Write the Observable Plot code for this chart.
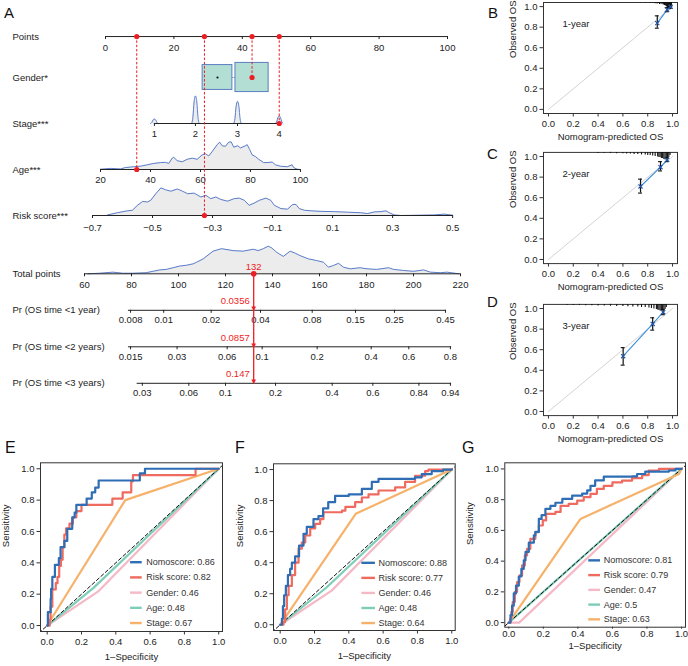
<!DOCTYPE html>
<html><head><meta charset="utf-8">
<script src="https://cdn.jsdelivr.net/npm/d3@7"></script>
<script src="https://cdn.jsdelivr.net/npm/@observablehq/plot@0.6"></script>
<style>
body{margin:0;background:#fff;}
#fig{position:relative;width:688px;height:666px;overflow:hidden;font-family:"Liberation Sans",Arial,Helvetica,sans-serif;color:#222;background:#fff;}
.panel{position:absolute;}
.letter{position:absolute;line-height:1;color:#111;}
</style></head><body><div id="fig"></div>
<script>
// ================= DATA =================
// --- Nomogram (A) ---
const rowLabelsTop = ["Points", "Gender*", "Stage***", "Age***", "Risk score***"];
const pointsTicks = [0, 20, 40, 60, 80, 100];
const genderPtsStart = [28.4, 38.0];
const genderPtsEnd = [37.1, 47.7];
const genderProp = [0.46, 0.54];
const stageLevels = [1, 2, 3, 4];
const stagePts = [14.3, 26.3, 38.6, 50.8];
const stageFreq = [0.16, 1.0, 0.8, 0.27];
const ageTicks = [20, 40, 60, 80, 100];
const agePtsRange = [-1.46, 57.0];           // points at age 20 and at age 100
const ageDensX = [20,24,28,30,33.3,36,38.7,41.3,44,46,47.3,48.7,49.3,50.7,52.7,54.7,56.7,58.7,60.7,62,63.3,64.7,66.7,67.7,68.7,70,71.3,72.3,73.3,74.9,76,78,78.7,79.7,80.7,82,83.3,85.3,86.7,88.7,90,92,94.7,96.7,97.3,98.7,100];
const ageDensY = [0.01,0.04,0.02,0.07,0.1,0.12,0.17,0.22,0.25,0.26,0.22,0.41,0.44,0.32,0.28,0.37,0.41,0.37,0.53,0.57,0.49,0.65,0.9,0.99,0.86,0.84,0.99,1.0,0.81,0.86,0.78,0.86,0.9,0.72,0.53,0.47,0.37,0.25,0.25,0.27,0.17,0.12,0.1,0.17,0.07,0.01,0];
const riskTicks = [-0.7, -0.5, -0.3, -0.1, 0.1, 0.3, 0.5];
const riskPtsRange = [-3.8, 101.5];          // points at -0.7 and at 0.5
const riskDensX = [-0.65,-0.617,-0.583,-0.567,-0.55,-0.533,-0.517,-0.506,-0.489,-0.472,-0.456,-0.439,-0.417,-0.4,-0.383,-0.361,-0.339,-0.322,-0.306,-0.289,-0.272,-0.25,-0.228,-0.211,-0.194,-0.178,-0.161,-0.144,-0.122,-0.106,-0.094,-0.072,-0.05,-0.033,-0.022,-0.011,0.006,0.028,0.061,0.106,0.15,0.194,0.217,0.239,0.261,0.278,0.289,0.306,0.328,0.439,0.472,0.5];
const riskDensY = [0.02,0.10,0.17,0.19,0.37,0.51,0.49,0.55,0.79,1.0,0.93,0.88,0.96,0.88,0.79,0.81,0.67,0.73,0.61,0.67,0.58,0.52,0.61,0.63,0.55,0.37,0.45,0.55,0.63,0.55,0.37,0.25,0.23,0.40,0.40,0.25,0.19,0.17,0.15,0.14,0.12,0.10,0.07,0.13,0.14,0.17,0.10,0.02,0.0,0.02,0.05,0.01];
const rowLabelsBottom = ["Total points", "Pr (OS time <1 year)", "Pr (OS time <2 years)", "Pr (OS time <3 years)"];
const totalTicks = [60, 80, 100, 120, 140, 160, 180, 200, 220];
const totalDensX = [61.4,66.4,72.1,76.3,80.6,86.3,89.1,92.0,94.8,97.7,100.5,103.4,106.2,107.7,110.5,114.7,118.3,123.3,127.5,131.8,133.9,136.1,138.2,139.6,141.8,144.6,147.5,149.6,151.7,155.3,158.8,161.7,163.8,165.9,168.1,170.2,173.1,177.3,180.2,184.4,189.4,191.5,195.8,200.1,204.3,207.2,211.4,214.3,219.3];
const totalDensY = [0,0.02,0.06,0.02,0.02,0.04,0.09,0.14,0.16,0.22,0.28,0.31,0.36,0.42,0.54,0.82,0.91,0.84,0.82,0.89,0.84,0.91,1.0,0.94,0.78,0.63,0.82,0.75,0.66,0.54,0.48,0.42,0.24,0.30,0.38,0.24,0.18,0.22,0.18,0.16,0.22,0.16,0.12,0.09,0.14,0.06,0.04,0.06,0];
const pr1Labels = ["0.008","0.01","0.02","0.04","0.08","0.15","0.25","0.45"];
const pr1Total  = [79.6, 93.7, 113.9, 134.9, 156.9, 175.3, 191.9, 213.6];
const pr1Span   = [78.7, 214.0];
const pr2Labels = ["0.015","0.03","0.06","0.1","0.2","0.4","0.6","0.8"];
const pr2Total  = [79.6, 99.4, 120.7, 135.6, 159.0, 182.0, 198.0, 215.7];
const pr2Span   = [78.7, 216.2];
const pr3Labels = ["0.03","0.06","0.1","0.2","0.4","0.6","0.84","0.94"];
const pr3Total  = [84.6, 104.4, 120.0, 141.3, 165.4, 182.7, 202.3, 215.7];
const pr3Span   = [82.4, 216.2];
// selected patient
const selAge = 34.5, selRisk = -0.327, selGenderIdx = 1, selStage = 4;
const selTotal = 132;
const selProbLabels = ["0.0356", "0.0857", "0.147"];

// --- Calibration (B, C, D) ---
const calTicks = [0, 0.2, 0.4, 0.6, 0.8, 1.0];
const calYears = ["1-year", "2-year", "3-year"];
const bPred = [0.877, 0.957, 0.985], bObs = [0.839, 0.97, 0.998], bLo = [0.79, 0.95, 0.985], bHi = [0.91, 0.99, 1.0];
const cPred = [0.742, 0.903, 0.957], cObs = [0.709, 0.896, 0.968], cLo = [0.645, 0.86, 0.95], cHi = [0.78, 0.95, 0.99];
const dPred = [0.602, 0.84, 0.925], dObs = [0.537, 0.85, 0.964], dLo = [0.45, 0.79, 0.94], dHi = [0.62, 0.91, 0.99];
const bRugX = [0.74,0.78,0.82,0.84,0.86,0.875,0.885,0.895,0.905,0.915,0.925,0.93,0.935,0.94,0.945,0.95,0.955,0.96,0.963,0.966,0.97,0.973,0.976,0.979,0.982,0.985,0.988,0.991];
const bRugH = [0.006,0.006,0.008,0.01,0.012,0.015,0.01,0.02,0.015,0.02,0.025,0.02,0.03,0.03,0.035,0.04,0.045,0.05,0.06,0.055,0.065,0.07,0.06,0.065,0.07,0.06,0.05,0.04];
const cRugX = [0.4,0.45,0.5,0.55,0.6,0.63,0.66,0.69,0.72,0.75,0.78,0.8,0.82,0.84,0.86,0.88,0.89,0.9,0.91,0.92,0.93,0.94,0.95,0.96,0.97,0.98];
const cRugH = [0.01,0.008,0.01,0.012,0.012,0.015,0.015,0.02,0.02,0.025,0.025,0.03,0.03,0.035,0.04,0.045,0.05,0.05,0.06,0.06,0.07,0.075,0.07,0.06,0.05,0.03];
const dRugX = [0.15,0.2,0.25,0.3,0.35,0.4,0.45,0.5,0.55,0.6,0.64,0.68,0.72,0.75,0.78,0.81,0.83,0.85,0.87,0.88,0.89,0.9,0.91,0.92,0.93,0.94,0.95];
const dRugH = [0.008,0.01,0.01,0.012,0.012,0.015,0.015,0.018,0.02,0.02,0.022,0.025,0.025,0.03,0.03,0.035,0.04,0.045,0.05,0.055,0.06,0.065,0.07,0.065,0.06,0.05,0.03];

// --- ROC (E, F, G) ---
const rocSeries = ["Nomoscore", "Risk score", "Gender", "Age", "Stage"];
const aucE = [0.86, 0.82, 0.46, 0.48, 0.67];
const aucF = [0.88, 0.77, 0.46, 0.48, 0.64];
const aucG = [0.81, 0.79, 0.47, 0.5, 0.63];
const rocTicks = [0, 0.2, 0.4, 0.6, 0.8, 1.0];
const eNomoFpr = [0,0.004,0.02,0.023,0.03,0.045,0.068,0.078,0.1,0.117,0.146,0.16,0.17,0.23,0.26,0.28,0.3,0.54,0.57,1];
const eNomoTpr = [0,0.085,0.17,0.234,0.31,0.387,0.43,0.5,0.54,0.617,0.69,0.72,0.77,0.81,0.85,0.88,0.925,0.97,1.0,1];
const eRiskFpr = [0,0.015,0.02,0.03,0.05,0.06,0.07,0.08,0.09,0.1,0.11,0.13,0.15,0.17,0.2,0.38,0.44,0.49,0.5,0.865,1];
const eRiskTpr = [0,0.04,0.12,0.23,0.27,0.31,0.38,0.42,0.5,0.58,0.62,0.65,0.69,0.73,0.77,0.81,0.85,0.92,0.96,1.0,1];
const eGenderFpr = [0,0.3,1], eGenderTpr = [0,0.22,1];
const eAgeFpr = [0,0.27,1], eAgeTpr = [0,0.24,1];
const eStageFpr = [0,0.455,1], eStageTpr = [0,0.8,1];
const fNomoFpr = [0,0.01,0.016,0.023,0.033,0.045,0.058,0.068,0.087,0.11,0.136,0.155,0.194,0.223,0.25,0.28,0.32,0.40,0.476,0.534,0.573,0.786,0.825,0.883,0.95,1];
const fNomoTpr = [0,0.04,0.12,0.19,0.25,0.32,0.36,0.40,0.44,0.51,0.586,0.63,0.68,0.70,0.75,0.79,0.83,0.84,0.875,0.92,0.94,0.95,0.97,0.99,1.0,1];
const fRiskFpr = [0,0.019,0.029,0.039,0.049,0.068,0.087,0.107,0.126,0.146,0.175,0.204,0.233,0.252,0.36,0.38,0.437,0.476,0.515,0.573,0.67,0.728,0.786,0.845,0.864,1];
const fRiskTpr = [0,0.017,0.10,0.19,0.25,0.32,0.40,0.49,0.53,0.575,0.62,0.65,0.68,0.725,0.735,0.76,0.79,0.82,0.84,0.865,0.885,0.92,0.96,0.99,1.0,1];
const fGenderFpr = [0,0.3,1], fGenderTpr = [0,0.22,1];
const fAgeFpr = [0,0.27,1], fAgeTpr = [0,0.24,1];
const fStageFpr = [0,0.44,0.97,1], fStageTpr = [0,0.715,0.985,1];
const gNomoFpr = [0,0.01,0.019,0.029,0.042,0.058,0.073,0.087,0.097,0.116,0.145,0.154,0.174,0.19,0.212,0.241,0.27,0.31,0.367,0.425,0.454,0.473,0.50,0.55,0.714,0.743,0.79,0.927,0.965,1];
const gNomoTpr = [0,0.048,0.11,0.19,0.24,0.30,0.35,0.405,0.46,0.52,0.567,0.59,0.675,0.70,0.74,0.76,0.78,0.805,0.827,0.84,0.86,0.89,0.925,0.95,0.952,0.967,0.983,0.99,1.0,1];
const gRiskFpr = [0,0.01,0.015,0.023,0.035,0.048,0.062,0.077,0.093,0.106,0.125,0.154,0.174,0.197,0.216,0.27,0.3,0.347,0.396,0.434,0.473,0.51,0.55,0.6,0.656,0.714,0.772,0.81,0.869,1];
const gRiskTpr = [0,0.026,0.07,0.134,0.2,0.264,0.307,0.372,0.437,0.48,0.545,0.589,0.632,0.665,0.708,0.72,0.76,0.773,0.794,0.816,0.838,0.87,0.89,0.913,0.924,0.94,0.96,0.99,1.0,1];
const gGenderFpr = [0,0.06,1], gGenderTpr = [0,0,1];
const gAgeFpr = [0,0.5,1], gAgeTpr = [0,0.5,1];
const gStageFpr = [0,0.415,0.985,1], gStageTpr = [0,0.675,0.967,1];

// ================= STYLE / LAYOUT =================
const FONT = '"Liberation Sans", Arial, Helvetica, sans-serif';
const RED = "#ee1d23", DBLUE = "#4a6fc6", DFILL = "#ececec", INK = "#222";
const BOX_FILL = "#b2ded3", BOX_STROKE = "#5a7dc2";
const ROC_COLORS = ["#2f6eb5", "#ef6a5f", "#f5b8c6", "#7ecdb8", "#f6b26b"];
const fig = document.getElementById("fig");
function mount(node, left, top, w, h) {
  const d = document.createElement("div");
  d.className = "panel";
  Object.assign(d.style, {left: left + "px", top: top + "px", width: w + "px", height: h + "px"});
  d.appendChild(node);
  fig.appendChild(d);
}
function letter(t, left, top, size) {
  const d = document.createElement("div");
  d.className = "letter";
  d.textContent = t;
  Object.assign(d.style, {left: left + "px", top: top + "px", fontSize: size + "px"});
  fig.appendChild(d);
}
const baseStyle = (fs) => ({background: "transparent", overflow: "visible", fontFamily: FONT, fontSize: fs + "px", color: INK});
const zip = (xs, ys) => xs.map((x, i) => ({x, y: ys[i]}));

// ================= A: NOMOGRAM TOP =================
const ageToPts = a => agePtsRange[0] + (a - ageTicks[0]) / (ageTicks[ageTicks.length - 1] - ageTicks[0]) * (agePtsRange[1] - agePtsRange[0]);
const riskToPts = r => riskPtsRange[0] + (r - riskTicks[0]) / (riskTicks[riskTicks.length - 1] - riskTicks[0]) * (riskPtsRange[1] - riskPtsRange[0]);
const stageToPts = s => stagePts[stageLevels.indexOf(s)];
const ROW = {points: 0.11, gender: 1, stage: 2, age: 3, risk: 4};
const rowOrder = [ROW.points, ROW.gender, ROW.stage, ROW.age, ROW.risk];
const topUnit = 46;                       // px per row (layout)
const DH = 27.6 / topUnit;                // max density height in row units
const TK = 3 / topUnit;                   // tick length in row units

const ageDens = zip(ageDensX, ageDensY);
const riskDens = zip(riskDensX, riskDensY);
const spikeShape = [[-1.1, 0], [-0.75, 0.22], [-0.4, 0.78], [0, 1], [0.4, 0.78], [0.75, 0.22], [1.1, 0]];
const stageSpikes = stageLevels.flatMap((lv, i) => spikeShape.map(([o, f]) => ({lv, p: stagePts[i] + o, d: stageFreq[i] * f})));
const genderBoxes = genderPtsStart.map((s, i) => ({x1: s, x2: genderPtsEnd[i], h: genderProp[i] * 54 / topUnit}));
const selTop = [
  {p: ageToPts(selAge), row: ROW.age},
  {p: riskToPts(selRisk), row: ROW.risk},
  {p: (genderPtsStart[selGenderIdx] + genderPtsEnd[selGenderIdx]) / 2, row: ROW.gender},
  {p: stageToPts(selStage), row: ROW.stage}
];

const nomTop = Plot.plot({
  width: 490, height: 240, margin: 0,
  x: {domain: [0, 100], range: [105, 447], axis: null},
  y: {domain: [0, 4], range: [31, 215], axis: null},
  style: baseStyle(9.5),
  marks: [
    Plot.text(rowLabelsTop, {y: (d, i) => rowOrder[i], text: d => d, frameAnchor: "left", dx: 12, textAnchor: "start", fill: INK}),
    // densities
    Plot.areaY(ageDens, {x: d => ageToPts(d.x), y1: ROW.age, y2: d => ROW.age - d.y * DH, fill: DFILL}),
    Plot.line(ageDens, {x: d => ageToPts(d.x), y: d => ROW.age - d.y * DH, stroke: DBLUE, strokeWidth: 0.9}),
    Plot.areaY(riskDens, {x: d => riskToPts(d.x), y1: ROW.risk, y2: d => ROW.risk - d.y * DH, fill: DFILL}),
    Plot.line(riskDens, {x: d => riskToPts(d.x), y: d => ROW.risk - d.y * DH, stroke: DBLUE, strokeWidth: 0.9}),
    Plot.areaY(stageSpikes, {x: "p", y1: ROW.stage, y2: d => ROW.stage - d.d * DH, z: "lv", fill: DFILL, curve: "monotone-x"}),
    Plot.line(stageSpikes, {x: "p", y: d => ROW.stage - d.d * DH, z: "lv", stroke: DBLUE, strokeWidth: 0.9, curve: "monotone-x"}),
    // axes
    Plot.ruleY([ROW.points], {x1: pointsTicks[0], x2: pointsTicks[pointsTicks.length - 1], stroke: INK}),
    Plot.ruleX(pointsTicks, {x: d => d, y1: ROW.points, y2: ROW.points + TK, stroke: INK}),
    Plot.text(pointsTicks, {x: d => d, y: ROW.points, text: d => String(d), dy: 11, fill: INK}),
    Plot.ruleY([ROW.stage], {x1: stagePts[0], x2: stagePts[stagePts.length - 1], stroke: INK}),
    Plot.ruleX(stageLevels, {x: stageToPts, y1: ROW.stage, y2: ROW.stage + TK, stroke: INK}),
    Plot.text(stageLevels, {x: stageToPts, y: ROW.stage, text: d => String(d), dy: 10.5, fill: INK}),
    Plot.ruleY([ROW.age], {x1: ageToPts(ageTicks[0]), x2: ageToPts(ageTicks[ageTicks.length - 1]), stroke: INK}),
    Plot.ruleX(ageTicks, {x: ageToPts, y1: ROW.age, y2: ROW.age + TK, stroke: INK}),
    Plot.text(ageTicks, {x: ageToPts, y: ROW.age, text: d => String(d), dy: 10.5, fill: INK}),
    Plot.ruleY([ROW.risk], {x1: riskToPts(riskTicks[0]), x2: riskToPts(riskTicks[riskTicks.length - 1]), stroke: INK}),
    Plot.ruleX(riskTicks, {x: riskToPts, y1: ROW.risk, y2: ROW.risk + TK, stroke: INK}),
    Plot.text(riskTicks, {x: riskToPts, y: ROW.risk, text: d => d3.format(".1f")(d), dy: 12.5, fill: INK}),
    // gender boxes
    Plot.ruleY([ROW.gender], {x1: genderPtsEnd[0], x2: genderPtsStart[1], stroke: "#8ea3cc", strokeWidth: 0.8}),
    Plot.rect(genderBoxes, {x1: "x1", x2: "x2", y1: d => ROW.gender - d.h / 2, y2: d => ROW.gender + d.h / 2, fill: BOX_FILL, stroke: BOX_STROKE, strokeWidth: 1}),
    Plot.dot([0], {x: () => (genderPtsStart[0] + genderPtsEnd[0]) / 2, y: ROW.gender, r: 1.1, fill: "#111", stroke: null}),
    // selected patient
    Plot.ruleX(selTop, {x: "p", y1: ROW.points, y2: "row", stroke: RED, strokeWidth: 1, strokeDasharray: "2.5,1.8"}),
    Plot.dot(selTop, {x: "p", y: ROW.points, r: 2.6, fill: RED, stroke: null}),
    Plot.dot(selTop, {x: "p", y: "row", r: 2.6, fill: RED, stroke: null})
  ]
});
mount(nomTop, 0, 0, 490, 240);

// ================= A: NOMOGRAM BOTTOM =================
const BR = {total: 0, pr1: 1, pr2: 2, pr3: 3};
const botUnit = 36.5;
const DHB = 27.6 / botUnit;
const TKB = 3 / botUnit;
const totalDens = zip(totalDensX, totalDensY);
const prAxes = [
  {row: BR.pr1, labels: pr1Labels, pos: pr1Total, span: pr1Span},
  {row: BR.pr2, labels: pr2Labels, pos: pr2Total, span: pr2Span},
  {row: BR.pr3, labels: pr3Labels, pos: pr3Total, span: pr3Span}
];
const prTicks = prAxes.flatMap(a => a.labels.map((l, i) => ({row: a.row, label: l, t: a.pos[i]})));
const nomBot = Plot.plot({
  width: 490, height: 170, margin: 0,
  x: {domain: [60, 220], range: [84, 460], axis: null},
  y: {domain: [0, 3], range: [33.3, 142.8], axis: null},
  style: baseStyle(9.5),
  marks: [
    Plot.text(rowLabelsBottom, {y: (d, i) => i, text: d => d, frameAnchor: "left", dx: 12, textAnchor: "start", fill: INK}),
    Plot.areaY(totalDens, {x: "x", y1: BR.total, y2: d => BR.total - d.y * DHB, fill: DFILL}),
    Plot.line(totalDens, {x: "x", y: d => BR.total - d.y * DHB, stroke: DBLUE, strokeWidth: 0.9}),
    Plot.ruleY([BR.total], {x1: totalTicks[0], x2: totalTicks[totalTicks.length - 1], stroke: INK}),
    Plot.ruleX(totalTicks, {x: d => d, y1: BR.total, y2: BR.total + TKB, stroke: INK}),
    Plot.text(totalTicks, {x: d => d, y: BR.total, text: d => String(d), dy: 11.5, fill: INK}),
    Plot.ruleY(prAxes, {y: "row", x1: d => d.span[0], x2: d => d.span[1], stroke: INK}),
    Plot.ruleX(prTicks, {x: "t", y1: "row", y2: d => d.row + TKB, stroke: INK}),
    Plot.text(prTicks, {x: "t", y: "row", text: "label", dy: 10, fill: INK}),
    // selected patient
    Plot.ruleX([selTotal], {x: d => d, y1: BR.total, y2: BR.pr3, stroke: RED, strokeWidth: 1.3}),
    Plot.dot([selTotal], {x: d => d, y: BR.total, r: 2.8, fill: RED, stroke: null}),
    Plot.text([selTotal], {x: d => d, y: BR.total, text: d => String(d), dy: -7, fill: RED}),
    Plot.text([BR.pr1, BR.pr2, BR.pr3], {x: selTotal, y: d => d, text: () => "\u25BC", fill: RED, fontSize: 8, lineAnchor: "bottom", dy: 1}),
    Plot.text([BR.pr1, BR.pr2, BR.pr3], {x: selTotal, y: d => d, text: (d, i) => selProbLabels[i], fill: RED, textAnchor: "end", dx: -4, dy: -9})
  ]
});
mount(nomBot, 0, 240, 490, 170);

// ================= B, C, D: CALIBRATION =================
function calPlot(pred, obs, lo, hi, rugX, rugH, year, height, mt, mb) {
  const pts = pred.map((p, i) => ({p, o: obs[i], lo: lo[i], hi: hi[i]}));
  const rug = zip(rugX, rugH);
  return Plot.plot({
    width: 188, height, marginLeft: 43, marginRight: 11, marginTop: mt, marginBottom: mb,
    x: {domain: [-0.04, 1.04]}, y: {domain: [-0.04, 1.04]},
    style: baseStyle(9.5),
    marks: [
      Plot.frame({stroke: "#333"}),
      Plot.axisX({ticks: calTicks, tickFormat: d3.format(".1f"), tickSize: 3.5, tickPadding: 3, label: null, stroke: "#333"}),
      Plot.axisY({ticks: calTicks, tickFormat: d3.format(".1f"), tickSize: 3.5, tickPadding: 2.5, label: null, stroke: "#333"}),
      Plot.line([[0, 0], [1, 1]], {stroke: "#d4d4d4", strokeWidth: 1}),
      Plot.ruleX(rug, {x: "x", y1: 1.04, y2: d => 1.04 - d.y, stroke: "#111", strokeWidth: 1.1}),
      Plot.line(pts, {x: "p", y: "o", stroke: "#3a8fd8", strokeWidth: 1.1}),
      Plot.ruleX(pts, {x: "p", y1: "lo", y2: "hi", stroke: "#111", strokeWidth: 1.2}),
      Plot.ruleY(pts, {y: "lo", x1: d => d.p - 0.016, x2: d => d.p + 0.016, stroke: "#111", strokeWidth: 1.1}),
      Plot.ruleY(pts, {y: "hi", x1: d => d.p - 0.016, x2: d => d.p + 0.016, stroke: "#111", strokeWidth: 1.1}),
      Plot.dot(pts, {x: "p", y: "o", symbol: "times", r: 2, stroke: "#2456a8", strokeWidth: 1.2}),
      Plot.text([year], {frameAnchor: "top-left", dx: 19, dy: 18, text: d => d, textAnchor: "start", fill: INK}),
      Plot.text(["Nomogram-predicted OS"], {frameAnchor: "bottom", dy: 26, text: d => d, fill: INK}),
      Plot.text(["Observed OS"], {frameAnchor: "left", dx: -31, rotate: -90, text: d => d, fill: INK})
    ]
  });
}
mount(calPlot(bPred, bObs, bLo, bHi, bRugX, bRugH, calYears[0], 145, 2, 32), 500, 0, 188, 145);
mount(calPlot(cPred, cObs, cLo, cHi, cRugX, cRugH, calYears[1], 150, 6.9, 31.9), 500, 145, 188, 150);
mount(calPlot(dPred, dObs, dLo, dHi, dRugX, dRugH, calYears[2], 155, 8.9, 34.9), 500, 295, 188, 155);

// ================= E, F, G: ROC =================
function rocPlot(cfg) {
  const ser = (f, t) => zip(f, t);
  const legend = rocSeries.map((s, i) => ({label: `${s}: ${cfg.auc[i]}`, color: ROC_COLORS[i], y: cfg.lg.y0 - i * cfg.lg.step}));
  return Plot.plot({
    width: cfg.w, height: 226, marginLeft: cfg.ml, marginRight: cfg.mr, marginTop: cfg.mt, marginBottom: cfg.mb,
    x: {domain: cfg.xd}, y: {domain: cfg.yd},
    style: baseStyle(9.5),
    marks: [
      Plot.frame({stroke: "#333"}),
      Plot.axisX({ticks: rocTicks, tickFormat: d3.format(".1f"), tickSize: cfg.xts, tickPadding: cfg.xtp, label: null, stroke: "#333"}),
      Plot.axisY({ticks: rocTicks, tickFormat: d3.format(".1f"), tickSize: 3.5, tickPadding: 2.5, label: null, stroke: "#333"}),
      Plot.line(ser(cfg.gender[0], cfg.gender[1]), {x: "x", y: "y", stroke: ROC_COLORS[2], strokeWidth: 2.2}),
      Plot.line(ser(cfg.age[0], cfg.age[1]), {x: "x", y: "y", stroke: ROC_COLORS[3], strokeWidth: 2.2}),
      Plot.line([[-0.1, -0.1], [1.1, 1.1]], {stroke: "#111", strokeWidth: 1, strokeDasharray: "3.5,2.5", clip: true}),
      Plot.line(ser(cfg.stage[0], cfg.stage[1]), {x: "x", y: "y", stroke: ROC_COLORS[4], strokeWidth: 2.2}),
      Plot.line(ser(cfg.risk[0], cfg.risk[1]), {x: "x", y: "y", stroke: ROC_COLORS[1], strokeWidth: 2.2, curve: "step-after"}),
      Plot.line(ser(cfg.nomo[0], cfg.nomo[1]), {x: "x", y: "y", stroke: ROC_COLORS[0], strokeWidth: 2.2, curve: "step-after"}),
      Plot.ruleY(legend, {y: "y", x1: cfg.lg.x0, x2: cfg.lg.x1, stroke: "color", strokeWidth: 2.4}),
      Plot.text(legend, {x: cfg.lg.xt, y: "y", text: "label", textAnchor: "start", fill: "#333", fontSize: 9}),
      Plot.text(["1\u2013Specificity"], {frameAnchor: "bottom", dy: cfg.xtitleDy, text: d => d, fill: INK}),
      Plot.text(["Sensitivity"], {frameAnchor: "left", dx: cfg.ytitleDx, rotate: -90, text: d => d, fill: INK})
    ]
  });
}
mount(rocPlot({
  w: 228, ml: 40, mr: 6, mt: 22.3, mb: 35, xd: [-0.039, 1.022], yd: [-0.038, 1.038], xts: 3.5, xtp: 3.5, xtitleDy: 28, ytitleDx: -34.5,
  auc: aucE, lg: {x0: 0.486, x1: 0.554, xt: 0.577, y0: 0.404, step: 0.097},
  nomo: [eNomoFpr, eNomoTpr], risk: [eRiskFpr, eRiskTpr], gender: [eGenderFpr, eGenderTpr], age: [eAgeFpr, eAgeTpr], stage: [eStageFpr, eStageTpr]
}), 0, 440, 228, 226);
mount(rocPlot({
  w: 230, ml: 45, mr: 3.3, mt: 23.3, mb: 36, xd: [-0.039, 1.02], yd: [-0.037, 1.037], xts: 3.5, xtp: 3.5, xtitleDy: 28, ytitleDx: -34,
  auc: aucF, lg: {x0: 0.476, x1: 0.555, xt: 0.573, y0: 0.399, step: 0.097},
  nomo: [fNomoFpr, fNomoTpr], risk: [fRiskFpr, fRiskTpr], gender: [fGenderFpr, fGenderTpr], age: [fAgeFpr, fAgeTpr], stage: [fStageFpr, fStageTpr]
}), 228, 440, 230, 226);
mount(rocPlot({
  w: 230, ml: 46.3, mr: 3, mt: 22.3, mb: 39.3, xd: [-0.023, 1.023], yd: [-0.03, 1.04], xts: 2, xtp: 1, xtitleDy: 21.5, ytitleDx: -35,
  auc: aucG, lg: {x0: 0.463, x1: 0.531, xt: 0.55, y0: 0.405, step: 0.096},
  nomo: [gNomoFpr, gNomoTpr], risk: [gRiskFpr, gRiskTpr], gender: [gGenderFpr, gGenderTpr], age: [gAgeFpr, gAgeTpr], stage: [gStageFpr, gStageTpr]
}), 458, 440, 230, 226);

// ================= PANEL LETTERS =================
letter("A", 4, 4.5, 15);
letter("B", 488, 4.5, 15);
letter("C", 487, 145.5, 15);
letter("D", 487, 294, 15);
letter("E", 5, 440, 16);
letter("F", 235, 440, 16);
letter("G", 462, 440, 16);
</script></body></html>
